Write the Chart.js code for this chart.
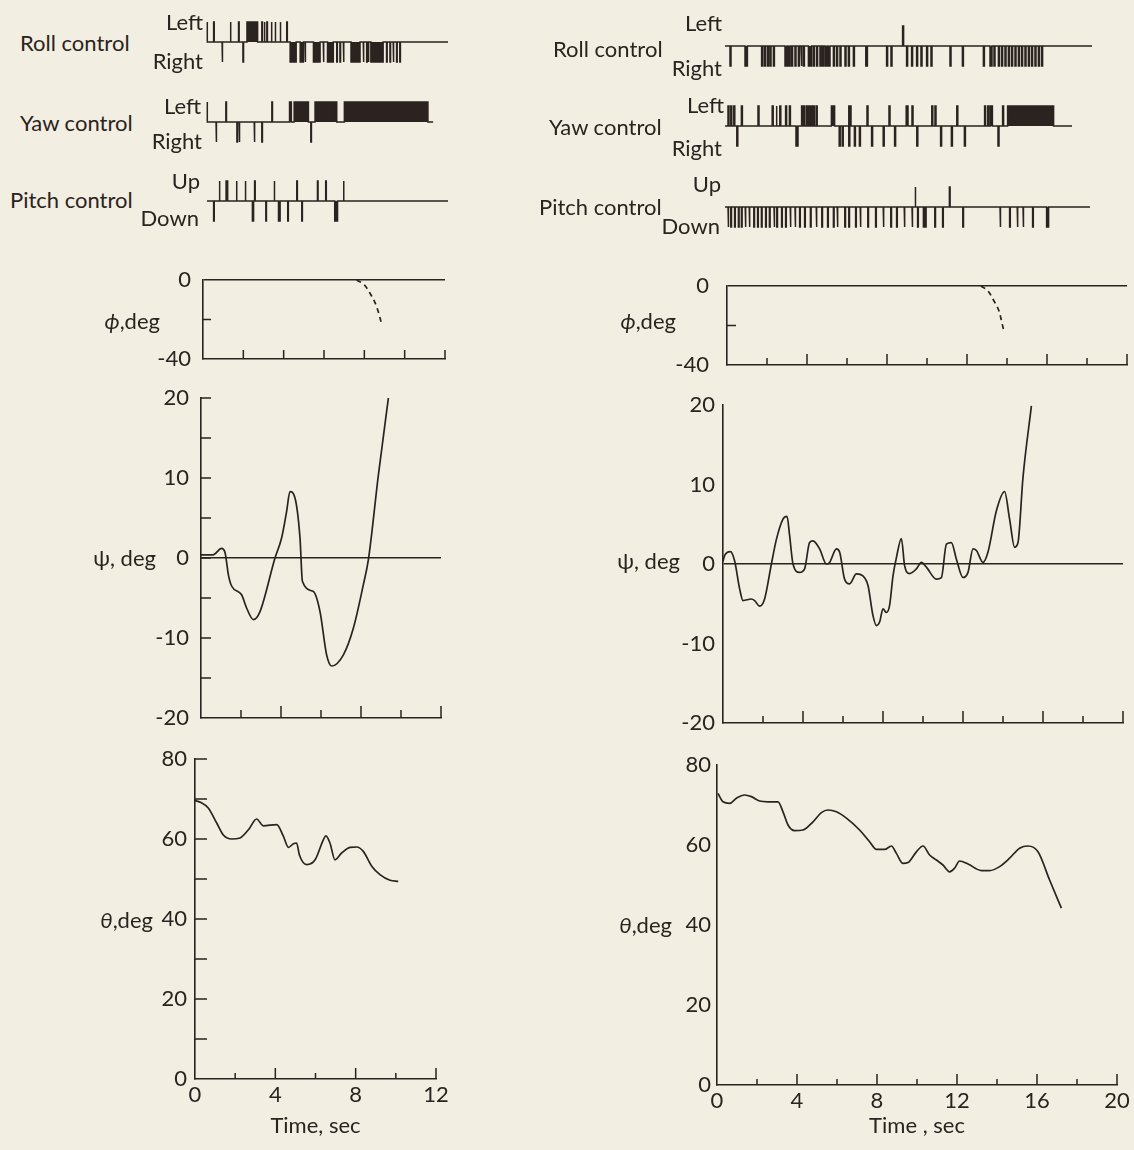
<!DOCTYPE html>
<html>
<head>
<meta charset="utf-8">
<title>Control inputs and attitude time histories</title>
<script src="https://cdn.jsdelivr.net/npm/chart.js@4/dist/chart.umd.min.js"></script>
<style>
  html, body { margin: 0; padding: 0; }
  body {
    width: 1134px; height: 1150px; position: relative; overflow: hidden;
    background: #f3eee2; color: #2a2320;
    font-family: Lato, "DejaVu Sans", sans-serif;
  }
  canvas { position: absolute; }
  .lbl {
    position: absolute; font-size: 22px; line-height: 1;
    white-space: nowrap; transform: translateY(-50%);
  }
  .lbl.r { transform: translate(-100%, -50%); }
</style>
</head>
<body>
<script>
const INK = '#2a2320';

// time axes, sec
const leftTimeLabels = [0, 4, 8, 12];
const rightTimeLabels = [0, 4, 8, 12, 16, 20];
const leftTimeMarks = [2, 4, 6, 8, 10, 12];
const rightTimeMarks = [2, 4, 6, 8, 10, 12, 14, 16, 18, 20];

// angle axes, deg
const phiLabels = [-40, 0];
const phiMarks = [-20];
const psiLabels = [-20, -10, 0, 10, 20];
const psiMarks = [-15, -10, -5, 0, 5, 10, 15, 20];
const thetaLabels = [0, 20, 40, 60, 80];
const thetaMarks = [10, 20, 30, 40, 50, 60, 70, 80];

// control pulses, sec: a number is a short stab, a pair is a held deflection
const leftRollLeft = [0, 0.33, 1.16, 1.57, [1.99, 2.52], 2.73, 2.85, 2.98, 3.2, 3.39, 3.64, 3.97];
const leftRollRight = [0.75, 1.79, [4.14, 4.44], [4.64, 4.8], 4.88, [5.3, 5.63], 5.79, [6.0, 6.29],
  6.46, 6.62, 6.79, [7.17, 7.62], 7.78, 7.95, 8.03, [8.16, 8.77], 8.94, 9.11, 9.27, 9.44, 9.6];
const leftYawLeft = [0, 0.94, 3.23, 4.11, 4.17, [4.34, 5.05], [5.38, 6.46], [6.84, 11.0]];
const leftYawRight = [0.45, 1.49, 1.6, 2.35, 2.73, 5.17];
const leftPitchUp = [0.61, [0.95, 1.03], 1.46, 1.9, 2.37, 3.34, 4.47, 5.5, 5.91, 6.79];
const leftPitchDown = [0.33, [2.26, 2.32], 2.93, [3.56, 3.64], 4.02, 4.72, [6.36, 6.5]];

const rightRollLeft = [8.88];
const rightRollRight = [0.25, [1.0, 1.12], 1.83, 1.97, 2.12, 2.25, 2.42, [3.0, 3.1], [3.15, 3.25],
  3.33, 3.5, 3.67, 3.8, 3.92, [4.17, 4.33], 4.42, 4.58, 4.75, 4.87, [5.0, 5.1], [5.15, 5.25],
  5.42, 5.58, 5.75, 6.0, 6.17, 6.42, [7.04, 7.12], 8.08, 8.3, 9.08, 9.33, 9.58, 9.8, 10.08,
  10.3, 11.25, 11.87, 12.92, [13.25, 13.35], 13.45, 13.67, 13.83, 14.0, 14.17, 14.33, 14.5,
  14.67, 14.83, 15.0, 15.17, 15.33, 15.5, 15.67, 15.83];
const rightYawLeft = [0.15, 0.29, 0.44, 0.82, 1.65, 2.36, 2.55, 2.74, 3.03, 3.22, 3.83, 3.94,
  4.08, 4.19, 4.31, 4.42, 4.56, [5.32, 5.48], [6.19, 6.3], 7.1, 8.2, [9.06, 9.15], 9.35, 10.34,
  10.5, 11.59, 12.98, 13.14, [13.27, 13.37], 13.88, [14.13, 16.43]];
const rightYawRight = [0.59, [3.55, 3.65], 5.71, 5.86, 6.19, 6.47, 6.72, 7.33, 7.91, 8.48, 9.59,
  10.78, 11.32, 11.97, 13.65];
const rightPitchUp = [9.5, 11.22];
const rightPitchDown = [0.15, 0.29, 0.48, 0.67, 0.82, 1.01, 1.21, 1.44, 1.63, 1.82, 2.03, 2.22,
  2.45, 2.59, 2.83, 3.03, 3.26, 3.5, 3.73, 3.98, 4.27, 4.56, 4.84, 5.13, 5.42, 5.61, 5.99, 6.19,
  6.53, 6.76, 7.14, 7.53, 7.91, 8.29, 8.58, 8.96, 9.35, 9.63, 9.92, 10.02, 10.49, 10.88, 11.89,
  13.75, 14.23, 14.61, 14.9, 15.38, [16.08, 16.18]];

// bank angle (dashed once it leaves zero)
const leftPhiTime = [7.62, 8.0, 8.28, 8.61, 8.83];
const leftPhi = [0, -2.5, -6.7, -13.5, -21.1];
const rightPhiTime = [12.7, 13.05, 13.35, 13.6, 13.82];
const rightPhi = [0, -2.5, -7.6, -12.7, -21.8];

// heading
const leftPsiTime = [0, 0.6, 1.03, 1.2, 1.37, 1.53, 2.03, 2.28, 2.62, 2.95, 3.7, 4.03, 4.28, 4.45,
  4.7, 4.95, 5.07, 5.62, 5.95, 6.28, 6.53, 7.12, 7.62, 8.12, 8.37, 8.87, 9.37];
const leftPsi = [0.4, 0.4, 1.2, 0.7, -2.1, -3.5, -4.6, -6.25, -7.7, -6.7, 0, 2.5, 5.8, 8.3,
  7.5, 2.5, -2.9, -4.2, -6.7, -12.1, -13.5, -12.1, -8.75, -3.3, -0.2, 10.4, 20];
const rightPsiTime = [0, 0.08, 0.37, 0.58, 0.83, 1, 1.42, 1.58, 1.83, 2.08, 2.42, 2.67, 3, 3.2,
  3.33, 3.5, 3.83, 4.08, 4.33, 4.5, 4.83, 5.17, 5.33, 5.67, 5.83, 6.08, 6.33, 6.67, 7, 7.25, 7.5,
  7.67, 7.83, 8, 8.17, 8.33, 8.5, 8.67, 8.92, 9.08, 9.33, 9.67, 9.92, 10.17, 10.67, 10.92, 11.17,
  11.42, 11.67, 12, 12.25, 12.5, 12.67, 13, 13.25, 13.67, 14.08, 14.33, 14.58, 14.75, 15, 15.42];
const rightPsi = [0.3, 1.05, 1.55, 0.4, -3.1, -4.6, -4.4, -4.6, -5.3, -4.4, 0, 3.1, 5.65, 6,
  3.6, 0, -1.05, -0.6, 2.7, 2.9, 1.9, 0, 0.2, 1.9, 1.5, -1.9, -2.5, -1.25, -1.5, -2.7, -6.5,
  -7.75, -7.3, -5.65, -6.1, -5.2, -1.5, 0.8, 3.2, -0.2, -1.2, -0.6, 0.2, -0.4, -1.9, -1.7, 2.5,
  2.7, 0.6, -1.7, -1.05, 1.9, 1.7, 0.2, 1.5, 6.7, 9.1, 5.65, 2.1, 2.7, 10.9, 19.9];

// pitch attitude
const leftThetaTime = [0, 0.3, 0.66, 1.08, 1.41, 1.83, 2.24, 2.66, 3.07, 3.4, 4.07, 4.4, 4.65,
  4.9, 5.06, 5.2, 5.56, 5.98, 6.39, 6.52, 6.72, 6.97, 7.3, 7.72, 8.05, 8.38, 8.8, 9.21, 9.71, 10.12];
const leftTheta = [69.6, 69.1, 67.75, 64, 61, 60, 60.25, 62.3, 65, 63.3, 63.6, 60.7, 57.9,
  58.8, 59, 56, 53.6, 54.8, 59.8, 60.8, 59, 54.8, 56.5, 57.9, 58, 56.9, 53.2, 51.1, 49.7, 49.4];
const rightThetaTime = [0.05, 0.3, 0.63, 0.97, 1.38, 1.72, 2.13, 2.55, 3.05, 3.3, 3.55, 3.88,
  4.3, 4.8, 5.22, 5.55, 5.97, 6.47, 7.13, 7.63, 7.97, 8.38, 8.72, 8.97, 9.3, 9.55, 9.97, 10.3,
  10.63, 10.97, 11.3, 11.63, 11.88, 12.13, 12.55, 13.22, 13.63, 14.13, 14.63, 15.13, 15.55,
  16.05, 16.63, 17.22];
const rightTheta = [72.9, 70.8, 70.4, 71.7, 72.5, 72.1, 71, 70.8, 70.8, 68.3, 65, 63.6, 63.75,
  65.8, 68.1, 68.75, 68.3, 66.7, 63.75, 60.8, 58.9, 58.9, 59.75, 57.9, 55.4, 55.6, 58.3, 59.75,
  57.5, 56.25, 55, 53.3, 54.2, 56, 55.25, 53.6, 53.6, 54.6, 56.7, 59.2, 59.75, 58.3, 51.25, 44.2];

Chart.defaults.font.family = 'Lato, "DejaVu Sans", sans-serif';
Chart.defaults.font.size = 22;
Chart.defaults.color = INK;

const pts = (ts, vs) => ts.map((t, i) => ({ x: t, y: vs[i] }));

// square-wave trace: baseline at 0, +1 for left/up, -1 for right/down
function pulseTrace(up, down, end, thin) {
  const span = p => (typeof p === 'number' ? [p, p + thin] : p);
  const ev = up.map(p => [...span(p), 1]).concat(down.map(p => [...span(p), -1]));
  ev.sort((a, b) => a[0] - b[0]);
  const out = [{ x: 0, y: 0 }];
  ev.forEach(([s, e, d]) => {
    out.push({ x: s, y: 0 }, { x: s, y: d }, { x: e, y: d }, { x: e, y: 0 });
  });
  out.push({ x: end, y: 0 });
  return out;
}

// short tick marks drawn inward from the axes
const innerTicks = (xMarks, yMarks) => ({
  id: 'innerTicks',
  afterDatasetsDraw(chart) {
    const { ctx, chartArea: a, scales: { x, y } } = chart;
    ctx.save();
    ctx.strokeStyle = INK;
    ctx.lineWidth = 1.5;
    ctx.beginPath();
    xMarks.forEach(([v, len]) => {
      const px = x.getPixelForValue(v);
      ctx.moveTo(px, a.bottom);
      ctx.lineTo(px, a.bottom - len);
    });
    yMarks.forEach(([v, len]) => {
      const py = y.getPixelForValue(v);
      ctx.moveTo(a.left, py);
      ctx.lineTo(a.left + len, py);
    });
    ctx.stroke();
    ctx.restore();
  }
});

function addCanvas(box, pad) {
  const w = box.r - box.l + pad.l + pad.r;
  const h = box.b - box.t + pad.t + pad.b;
  const cv = document.createElement('canvas');
  cv.width = w;
  cv.height = h;
  cv.style.left = (box.l - pad.l) + 'px';
  cv.style.top = (box.t - pad.t) + 'px';
  cv.style.width = w + 'px';
  cv.style.height = h + 'px';
  document.body.appendChild(cv);
  return cv;
}

const baseOptions = () => ({
  responsive: false,
  animation: false,
  devicePixelRatio: 1,
  events: [],
  plugins: { legend: { display: false }, tooltip: { enabled: false } }
});

function controlChart(box, span, up, down, end, thin) {
  const pad = { l: 4, r: 4, t: 4, b: 4 };
  const cv = addCanvas(box, pad);
  const options = baseOptions();
  options.layout = { padding: { left: pad.l, right: pad.r, top: pad.t, bottom: pad.b }, autoPadding: false };
  options.scales = {
    x: { type: 'linear', display: false, min: 0, max: span },
    y: { display: false, min: -1, max: 1 }
  };
  return new Chart(cv, {
    type: 'line',
    data: {
      datasets: [{
        data: pulseTrace(up, down, end, thin),
        borderColor: INK,
        backgroundColor: INK,
        borderWidth: 1.5,
        borderJoinStyle: 'miter',
        fill: 'origin',
        pointRadius: 0,
        tension: 0,
        clip: false
      }]
    },
    options
  });
}

function plotChart(p) {
  // generous top/bottom room so tick-label padding never shifts the plot area
  const pad = { l: 70, r: 32, t: 42, b: Math.max(p.padB || 0, 42) };
  const cv = addCanvas(p.box, pad);
  const options = baseOptions();
  options.layout = { padding: { left: 0, right: pad.r, top: pad.t, bottom: 0 }, autoPadding: false };
  options.scales = {
    x: {
      type: 'linear', min: 0, max: p.span,
      afterFit: s => { s.height = pad.b; },
      afterBuildTicks: s => { s.ticks = (p.xLabels || []).map(v => ({ value: v })); },
      ticks: { display: !!p.xLabels, padding: p.xPad || 4, maxRotation: 0, autoSkip: false,
               callback: v => String(v) },
      grid: { drawTicks: false, color: 'rgba(0,0,0,0)' },
      border: { display: true, color: INK, width: 1.6 },
      title: p.xTitle
        ? { display: true, text: p.xTitle, color: INK, padding: { top: 0, bottom: 4 } }
        : { display: false }
    },
    y: {
      type: 'linear', min: p.yMin, max: p.yMax,
      afterFit: s => { s.width = pad.l; },
      afterBuildTicks: s => { s.ticks = p.yLabels.map(v => ({ value: v })); },
      ticks: { padding: p.yPad, autoSkip: false, callback: v => String(v) },
      grid: {
        drawTicks: false,
        lineWidth: 1.6,
        color: c => (p.zeroLine && c.tick && c.tick.value === 0 ? INK : 'rgba(0,0,0,0)')
      },
      border: { display: true, color: INK, width: 1.6 }
    }
  };
  return new Chart(cv, {
    type: 'line',
    data: {
      datasets: p.series.map(s => ({
        data: s.data,
        borderColor: INK,
        borderWidth: 1.7,
        borderDash: s.dash || [],
        pointRadius: 0,
        fill: false,
        cubicInterpolationMode: 'monotone'
      }))
    },
    options,
    plugins: [innerTicks(p.xMarks, p.yMarks)]
  });
}

function label(text, x, y, alignRight) {
  const d = document.createElement('div');
  d.className = alignRight ? 'lbl r' : 'lbl';
  d.innerHTML = text;
  d.style.left = x + 'px';
  d.style.top = y + 'px';
  document.body.appendChild(d);
}

const xm = (marks, majorLen, minorLen) => marks.map(v => [v, v % 4 === 0 ? majorLen : minorLen]);
const ym = (marks, len) => marks.map(v => [v, len]);

// ---- left run: 0 to 12 sec ----
controlChart({ l: 207, r: 448, t: 22, b: 62 }, 12, leftRollLeft, leftRollRight, 12, 0.03);
controlChart({ l: 207, r: 448, t: 102, b: 142 }, 12, leftYawLeft, leftYawRight, 11.26, 0.03);
controlChart({ l: 207, r: 448, t: 181, b: 221 }, 12, leftPitchUp, leftPitchDown, 12, 0.03);

plotChart({
  box: { l: 203, r: 445, t: 280, b: 359 }, span: 12, yMin: -40, yMax: 0,
  yLabels: phiLabels, yPad: 12, zeroLine: true,
  xMarks: xm(leftTimeMarks, 9, 9), yMarks: ym(phiMarks, 8),
  series: [{ data: pts(leftPhiTime, leftPhi), dash: [5, 4] }]
});
plotChart({
  box: { l: 201, r: 441, t: 398, b: 718 }, span: 12, yMin: -20, yMax: 20,
  yLabels: psiLabels, yPad: 12, zeroLine: true,
  xMarks: xm(leftTimeMarks, 12, 8), yMarks: ym(psiMarks, 10),
  series: [{ data: pts(leftPsiTime, leftPsi) }]
});
plotChart({
  box: { l: 195, r: 436, t: 759, b: 1079 }, span: 12, yMin: 0, yMax: 80,
  yLabels: thetaLabels, yPad: 8, zeroLine: false, padB: 64,
  xLabels: leftTimeLabels, xTitle: 'Time, sec', xPad: 3,
  xMarks: xm(leftTimeMarks, 11, 6), yMarks: ym(thetaMarks, 12),
  series: [{ data: pts(leftThetaTime, leftTheta) }]
});

// ---- right run: 0 to 20 sec ----
controlChart({ l: 725, r: 1125, t: 26, b: 66 }, 20, rightRollLeft, rightRollRight, 18.35, 0.05);
controlChart({ l: 725, r: 1125, t: 106, b: 146 }, 20, rightYawLeft, rightYawRight, 17.35, 0.05);
controlChart({ l: 725, r: 1125, t: 187, b: 227 }, 20, rightPitchUp, rightPitchDown, 18.25, 0.035);

plotChart({
  box: { l: 727, r: 1127, t: 286, b: 365 }, span: 20, yMin: -40, yMax: 0,
  yLabels: phiLabels, yPad: 18, zeroLine: true,
  xMarks: xm(rightTimeMarks, 11, 7), yMarks: ym(phiMarks, 9),
  series: [{ data: pts(rightPhiTime, rightPhi), dash: [5, 4] }]
});
plotChart({
  box: { l: 723, r: 1123, t: 405, b: 723 }, span: 20, yMin: -20, yMax: 20,
  yLabels: psiLabels, yPad: 8, zeroLine: true,
  xMarks: xm(rightTimeMarks, 12, 7), yMarks: [],
  series: [{ data: pts(rightPsiTime, rightPsi) }]
});
plotChart({
  box: { l: 717, r: 1117, t: 765, b: 1085 }, span: 20, yMin: 0, yMax: 80,
  yLabels: thetaLabels, yPad: 6, zeroLine: false, padB: 58,
  xLabels: rightTimeLabels, xTitle: 'Time , sec', xPad: 3,
  xMarks: xm(rightTimeMarks, 11, 6), yMarks: [],
  series: [{ data: pts(rightThetaTime, rightTheta) }]
});

// ---- trace and axis names ----
label('Roll control', 20, 43);
label('Left', 203, 22, true);
label('Right', 203, 61, true);
label('Yaw control', 20, 123);
label('Left', 201, 106, true);
label('Right', 202, 141, true);
label('Pitch control', 10, 200);
label('Up', 200, 181, true);
label('Down', 199, 218, true);
label('<i>ϕ</i>,deg', 160, 321, true);
label('ψ, deg', 156, 558, true);
label('<i>θ</i>,deg', 153, 920, true);

label('Left', 722, 23, true);
label('Roll control', 553, 49);
label('Right', 722, 68, true);
label('Left', 724, 105, true);
label('Yaw control', 549, 127);
label('Right', 722, 148, true);
label('Up', 721, 184, true);
label('Pitch control', 539, 207);
label('Down', 720, 226, true);
label('<i>ϕ</i>,deg', 676, 321, true);
label('ψ, deg', 680, 561, true);
label('<i>θ</i>,deg', 672, 925, true);
</script>
</body>
</html>
